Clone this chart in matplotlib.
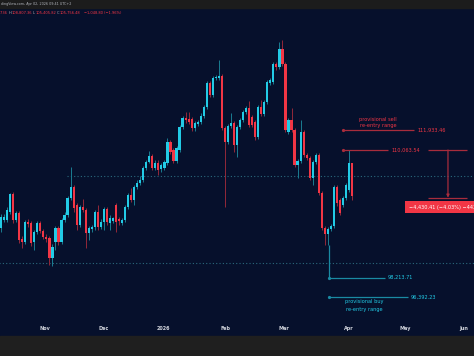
import matplotlib.pyplot as plt
from matplotlib.patches import Rectangle
import numpy as np

# daily candles, prices in thousands
opens = [102.82, 103.56, 103.56, 104.31, 105.98, 103.56, 104.21, 101.80, 101.52, 103.38,
         103.28, 101.52, 102.45, 103.28, 102.54, 101.98, 101.89, 100.03, 101.52, 102.82,
         101.52, 103.56, 104.03, 105.61, 106.63, 104.96, 103.10, 104.77, 104.49, 102.35,
         102.73, 102.91, 104.31, 102.91, 103.38, 104.58, 103.28, 103.47, 104.96, 103.66,
         103.28, 103.56, 104.77, 105.88, 105.42, 106.63, 107.00, 107.28, 108.39, 108.95,
         109.51, 108.39, 108.86, 108.30, 108.39, 108.86, 110.81, 110.06, 109.04, 110.06,
         112.20, 113.04, 112.95, 112.95, 112.11, 112.48, 112.67, 113.22, 114.06, 116.29,
         115.17, 116.75, 116.75, 116.94, 112.11, 110.81, 112.29, 112.57, 110.53, 112.20,
         112.85, 113.60, 113.97, 113.13, 112.67, 111.27, 114.06, 113.41, 114.52, 116.29,
         116.38, 118.05, 117.78, 119.45, 118.05, 111.74, 112.85, 111.92, 108.67, 109.04,
         111.74, 109.60, 109.32, 107.46, 108.95, 109.60, 106.07, 102.82, 102.26, 102.73,
         103.00, 106.63, 105.42, 104.96, 105.61, 106.35, 108.81]
highs = [104.12, 104.12, 104.77, 106.07, 106.16, 104.40, 104.40, 102.08, 103.56, 103.66,
         103.47, 102.63, 103.47, 103.47, 102.73, 102.26, 102.08, 101.33, 103.00, 103.00,
         103.75, 104.31, 105.79, 108.49, 106.81, 105.14, 104.96, 105.51, 104.68, 103.00,
         103.10, 104.49, 104.96, 103.66, 104.77, 104.77, 104.03, 103.84, 105.14, 103.84,
         103.75, 104.96, 106.07, 106.53, 106.81, 107.28, 107.65, 108.58, 109.14, 109.97,
         109.69, 109.14, 109.14, 108.86, 109.14, 111.18, 110.99, 110.25, 110.44, 112.39,
         113.22, 113.60, 113.60, 113.13, 112.76, 112.85, 113.50, 114.25, 116.48, 116.48,
         116.94, 117.03, 118.43, 117.13, 112.29, 112.48, 113.50, 112.76, 112.39, 113.04,
         113.78, 114.15, 114.62, 113.32, 112.85, 114.25, 114.71, 114.71, 116.57, 116.75,
         118.24, 118.24, 120.10, 120.28, 118.24, 113.04, 113.97, 112.11, 109.23, 112.85,
         111.92, 109.79, 109.51, 109.14, 109.79, 109.79, 106.26, 103.00, 102.91, 103.19,
         106.81, 106.81, 105.61, 105.79, 107.00, 110.06, 108.81]
lows = [102.45, 103.38, 103.38, 104.12, 103.28, 103.38, 101.43, 100.96, 101.33, 102.91,
        101.15, 100.78, 102.26, 102.35, 101.80, 101.52, 99.38, 99.29, 100.78, 101.24,
        101.33, 103.38, 103.84, 105.42, 104.31, 102.63, 102.91, 104.31, 100.96, 101.70,
        102.45, 102.63, 102.63, 102.73, 102.63, 103.10, 102.63, 103.28, 102.45, 103.10,
        103.10, 103.38, 104.58, 105.23, 104.96, 106.44, 106.81, 107.09, 108.21, 108.86,
        108.21, 108.21, 107.74, 108.02, 108.21, 108.67, 109.69, 108.86, 108.86, 109.88,
        112.02, 112.57, 112.48, 111.83, 111.83, 112.29, 112.48, 113.04, 113.87, 114.99,
        114.99, 116.57, 116.57, 111.92, 104.77, 110.62, 112.11, 109.88, 109.41, 112.02,
        112.67, 113.41, 112.20, 112.20, 110.99, 111.09, 113.22, 113.22, 114.34, 116.10,
        116.20, 117.50, 117.59, 117.87, 111.74, 111.55, 111.74, 108.49, 107.46, 108.86,
        109.41, 109.14, 107.28, 106.81, 108.76, 105.88, 102.63, 101.24, 101.24, 102.54,
        102.82, 104.86, 104.03, 104.77, 105.42, 106.16, 105.41]
closes = [103.84, 103.84, 104.49, 105.98, 103.56, 104.21, 101.70, 101.52, 103.38, 103.19,
          101.43, 102.45, 103.28, 102.54, 101.98, 101.80, 100.03, 101.05, 102.82, 101.52,
          103.56, 104.03, 105.61, 106.63, 104.68, 103.10, 104.77, 104.49, 102.35, 102.82,
          102.91, 104.31, 102.91, 103.38, 104.58, 103.38, 103.75, 103.75, 103.38, 103.47,
          103.56, 104.77, 105.88, 105.42, 106.63, 107.00, 107.28, 108.39, 108.95, 109.51,
          108.39, 108.86, 108.21, 108.67, 108.95, 110.81, 109.88, 109.04, 110.25, 112.20,
          113.04, 112.85, 112.67, 112.11, 112.57, 112.67, 113.22, 114.06, 116.29, 115.17,
          116.75, 116.85, 116.94, 112.11, 110.81, 112.29, 112.57, 110.53, 112.20, 112.85,
          113.60, 113.97, 112.39, 112.39, 111.27, 114.06, 113.41, 114.52, 116.38, 116.57,
          118.05, 117.78, 119.45, 118.05, 111.92, 112.85, 111.92, 108.67, 109.04, 111.74,
          109.60, 109.32, 107.46, 108.95, 109.60, 106.07, 102.82, 102.26, 102.73, 103.00,
          106.63, 105.14, 104.21, 105.61, 106.81, 108.86, 105.76]

months = ['Nov', 'Dec', '2026', 'Feb', 'Mar', 'Apr', 'May', 'Jun']
month_pos = [14.54, 34.04, 53.54, 74.02, 93.52, 115.0, 133.5, 153.0]

sell_top = 111933.46
sell_low = 110063.54
buy_top = 98213.71
buy_low = 96392.23
measure_change = -4430.41
measure_pct = -4.03
dotted_levels = [107640, 99570]

navy = '#06102c'
up_col = '#22cbe6'
dn_col = '#f23645'
up_wick = '#1a7d92'
dn_wick = '#93283a'

o = np.array(opens) * 1000
h = np.array(highs) * 1000
l = np.array(lows) * 1000
c = np.array(closes) * 1000
x = np.arange(len(o))
up = c >= o

fig = plt.figure(figsize=(4.74, 3.56), dpi=100, facecolor=navy)
ax = fig.add_axes([0, 36 / 356, 1, 320 / 356])
ax.set_facecolor(navy)
ax.set_xlim(-0.33, 156.3)
ax.set_ylim(94270, 124000)

# dotted reference levels
ax.hlines(dotted_levels[0], 21.8, 160, colors='#2a6a7e', linestyles=(0, (1, 2)), lw=0.8)
ax.hlines(dotted_levels[1], -1, 160, colors='#2a6a7e', linestyles=(0, (1, 2)), lw=0.8)

# candles
ax.vlines(x[up], l[up], h[up], colors=up_wick, lw=0.7, zorder=2)
ax.vlines(x[~up], l[~up], h[~up], colors=dn_wick, lw=0.7, zorder=2)
ax.bar(x[up], (c - o)[up], bottom=o[up], width=0.72, color=up_col, lw=0, zorder=3)
ax.bar(x[~up], (o - c)[~up], bottom=c[~up], width=0.72, color=dn_col, lw=0, zorder=3)

# sell re-entry drawing
red_line = '#a82c3c'
ax.hlines(sell_top, 113.0, 136.5, colors=red_line, lw=0.9)
ax.hlines(sell_low, 113.0, 127.9, colors=red_line, lw=0.9)
ax.plot([113.0, 113.0], [sell_top, sell_low], 'o', ms=1.3, color=red_line)
ax.text(137.5, sell_top, f'{sell_top:,.2f}', color=dn_col, fontsize=3.6, va='center')
ax.text(128.9, sell_low, f'{sell_low:,.2f}', color=dn_col, fontsize=3.6, va='center')
ax.annotate('provisional sell', (124.6, sell_top), xytext=(0, 7.2), textcoords='offset points',
            color=dn_col, fontsize=3.6, ha='center', va='center')
ax.annotate('re-entry range', (124.6, sell_top), xytext=(0, 2.9), textcoords='offset points',
            color=dn_col, fontsize=3.6, ha='center', va='center')

# buy re-entry drawing
cy_line = '#1a8aa3'
ax.vlines(108.3, buy_top, l[108], colors=cy_line, lw=0.9)
ax.hlines(buy_top, 108.3, 126.9, colors=cy_line, lw=0.9)
ax.hlines(buy_low, 108.3, 134.5, colors=cy_line, lw=0.9)
ax.plot([108.3, 108.3], [buy_top, buy_low], 'o', ms=1.3, color=cy_line)
ax.text(127.6, buy_top, f'{buy_top:,.2f}', color=up_col, fontsize=3.6, va='center')
ax.text(135.5, buy_low, f'{buy_low:,.2f}', color=up_col, fontsize=3.6, va='center')
ax.annotate('provisional buy', (120.0, buy_low), xytext=(0, -2.9), textcoords='offset points',
            color=up_col, fontsize=3.6, ha='center', va='center')
ax.annotate('re-entry range', (120.0, buy_low), xytext=(0, -8.6), textcoords='offset points',
            color=up_col, fontsize=3.6, ha='center', va='center')

# measure tool
end_price = sell_low + measure_change
ax.hlines([sell_low, end_price], 141.1, 154.0, colors=red_line, lw=0.9)
ax.annotate('', xy=(147.7, end_price), xytext=(147.7, sell_low),
            arrowprops=dict(arrowstyle='-|>', color=red_line, lw=0.9, mutation_scale=4,
                            shrinkA=0, shrinkB=0))
label = f'\u2212{abs(measure_change):,.2f} (\u2212{abs(measure_pct):.2f}%) \u2212{abs(measure_change) * 100:,.0f}'
ax.annotate(label, (147.7, end_price), xytext=(0, -7), textcoords='offset points',
            color='white', fontsize=3.6, ha='center', va='center',
            bbox=dict(boxstyle='square,pad=0.7', fc=dn_col, ec='none'))

ax.set_xticks(month_pos)
ax.set_xticklabels(months, fontweight='bold')
ax.tick_params(axis='x', length=0, pad=4.3, labelsize=3.5, labelcolor='#d1d4dc')
ax.set_yticks([])
for s in ax.spines.values():
    s.set_visible(False)

# header and footer bands
fig.add_artist(Rectangle((0, 0), 1, 20 / 356, transform=fig.transFigure, color='#1f1f1f', zorder=10))
fig.add_artist(Rectangle((0, 1 - 8 / 356), 1, 8 / 356, transform=fig.transFigure, color='#1c1c1c', zorder=10))
fig.text(1 / 474, 1 - 4 / 356, 'dingView.com, Apr 02, 2026 09:41 UTC+2', color='#b0b3ba',
         fontsize=2.4, va='center', zorder=11)

hdr_y = 1 - 13.5 / 356
pieces = [(0, '7.36', dn_col), (9, 'H', '#b0b3ba'), (12, '108,807.36', dn_col),
          (33, 'L', '#b0b3ba'), (36, '105,405.82', dn_col), (56.5, 'C', '#b0b3ba'),
          (59.5, '105,756.48', dn_col), (84, '\u22121,048.80 (\u22121.96%)', dn_col)]
for px, txt, col in pieces:
    fig.text(px / 474, hdr_y, txt, color=col, fontsize=2.6, va='center')

fig.savefig('out.png', dpi=100, facecolor=navy)
